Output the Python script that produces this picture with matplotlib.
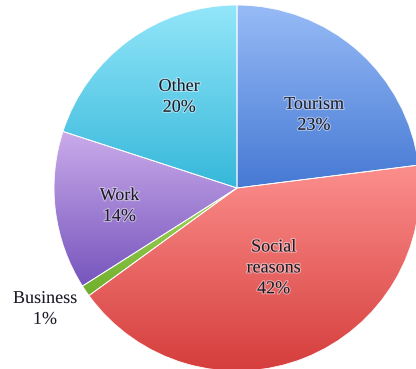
import matplotlib.pyplot as plt
import matplotlib.patheffects as pe
from matplotlib.colors import LinearSegmentedColormap
import numpy as np

# reasons for visiting, share of visitors (%)
labels = ["Tourism", "Social\nreasons", "Business", "Work", "Other"]
shares = [23, 42, 1, 14, 20]

# top / bottom colours of each slice's gradient
top_cols = ["#97bbf6", "#fc8f8d", "#a6d860", "#caabea", "#93e6f9"]
bot_cols = ["#4679d4", "#d43c3a", "#6fae2c", "#7655bd", "#36b8da"]

# label placement: distance from centre (radii) and angular nudge (deg)
label_dist = [0.58, 0.48, 1.24, 0.65, 0.59]
label_turn = [-5.0, 3.0, -2.0, 1.5, -3.6]

W, H = 416, 369
R = 183.0
cx, cy = 237.0, 188.0

fig = plt.figure(figsize=(W / 100, H / 100), dpi=100)
ax = fig.add_axes([0, 0, 1, 1])
ax.axis("off")

wedges, _ = ax.pie(shares, startangle=90, counterclock=False, radius=1.0,
                   wedgeprops=dict(edgecolor="white", linewidth=0.6))

for w, c0, c1 in zip(wedges, top_cols, bot_cols):
    verts = w.get_path().vertices
    y0, y1 = verts[:, 1].min(), verts[:, 1].max()
    x0, x1 = verts[:, 0].min(), verts[:, 0].max()
    cmap = LinearSegmentedColormap.from_list("g", [c1, c0])
    grad = np.linspace(0, 1, 256).reshape(-1, 1)
    im = ax.imshow(grad, cmap=cmap, origin="lower", aspect="auto",
                   extent=(x0, x1, y0, y1), zorder=1, interpolation="bilinear")
    im.set_clip_path(w)
    w.set_facecolor("none")
    w.set_zorder(2)

ax.set_xlim(-cx / R, (W - cx) / R)
ax.set_ylim(-(H - cy) / R, cy / R)

glow = [pe.withStroke(linewidth=1.6, foreground="white", alpha=0.45)]
for w, lab, s, d, t in zip(wedges, labels, shares, label_dist, label_turn):
    mid = np.deg2rad((w.theta1 + w.theta2) / 2 + t)
    ax.text(d * np.cos(mid), d * np.sin(mid), f"{lab}\n{s}%",
            ha="center", va="center", fontsize=13, family="Liberation Serif",
            color="#1c1c28", linespacing=1.3, zorder=5, path_effects=glow)

fig.savefig("out.png", dpi=100)
